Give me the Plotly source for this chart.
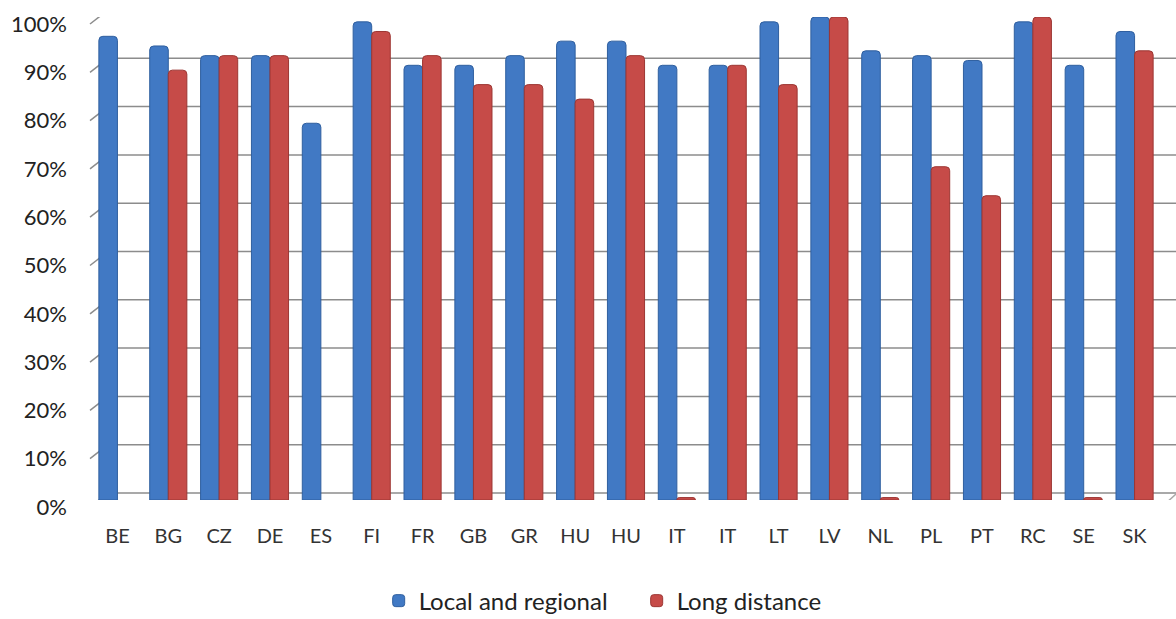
import plotly.graph_objects as go

# Share of lines/services per country (fractions of 1)
countries = ["BE", "BG", "CZ", "DE", "ES", "FI", "FR", "GB", "GR", "HU", "HU",
             "IT", "IT", "LT", "LV", "NL", "PL", "PT", "RC", "SE", "SK"]
local_regional = [0.96, 0.94, 0.92, 0.92, 0.78, 0.99, 0.90, 0.90, 0.92, 0.95, 0.95,
                  0.90, 0.90, 0.99, 1.00, 0.93, 0.92, 0.91, 0.99, 0.90, 0.97]
long_distance = [None, 0.89, 0.92, 0.92, None, 0.97, 0.92, 0.86, 0.86, 0.83, 0.92,
                 0.005, 0.90, 0.86, 1.00, 0.005, 0.69, 0.63, 1.00, 0.005, 0.93]
y_ticks = [i / 10 for i in range(11)]

BLUE = "#4179C4"
RED = "#C64B48"
GRID = "#8C8C8C"
FONT = "Lato, 'Open Sans', sans-serif"

positions = list(range(len(countries)))

fig = go.Figure()
fig.add_trace(go.Bar(
    x=positions, y=local_regional, name="Local and regional",
    marker=dict(color=BLUE, line=dict(color="#2F5F9F", width=1)),
))
fig.add_trace(go.Bar(
    x=positions, y=long_distance, name="Long distance",
    marker=dict(color=RED, line=dict(color="#9C3633", width=1)),
))

# Pseudo-3D frame: gridlines run from the side wall (diagonal) across the back wall
shapes = []
for v in y_ticks:
    shapes.append(dict(
        type="line", layer="below", xref="paper", yref="y",
        xsizemode="pixel", xanchor=0, x0=-2, x1=16,
        ysizemode="pixel", yanchor=v, y0=-7, y1=7,
        line=dict(color=GRID, width=1.5),
    ))
    shapes.append(dict(
        type="line", layer="below", xref="paper", yref="y",
        x0=0.0168, x1=1.02,
        ysizemode="pixel", yanchor=v, y0=7, y1=7,
        line=dict(color=GRID, width=1.5),
    ))
# Floor: front edge and the slanted right end
shapes.append(dict(
    type="line", layer="below", xref="paper", yref="y",
    x0=-0.002, x1=1.004, ysizemode="pixel", yanchor=0, y0=-5, y1=-5,
    line=dict(color="#A8A8A8", width=1.5),
))
shapes.append(dict(
    type="line", layer="below", xref="paper", yref="y",
    xsizemode="pixel", xanchor=1.0, x0=4, x1=16,
    ysizemode="pixel", yanchor=0, y0=-5, y1=6,
    line=dict(color="#A8A8A8", width=1.5),
))

fig.update_layout(
    width=1176, height=619,
    margin=dict(l=92, r=16, t=17, b=119, autoexpand=False),
    paper_bgcolor="white", plot_bgcolor="white",
    barmode="group", bargap=0.27, bargroupgap=0.0, barcornerradius=4,
    font=dict(family=FONT, color="#222222"),
    shapes=shapes,
    showlegend=True,
    legend=dict(
        orientation="h", xref="container", x=0.322, xanchor="left",
        yref="container", y=0.029, yanchor="middle",
        font=dict(size=24, family=FONT, color="#222222"),
        entrywidth=213, entrywidthmode="pixels",
        tracegroupgap=0, traceorder="normal",
    ),
    xaxis=dict(
        tickmode="array", tickvals=positions, ticktext=countries,
        range=[-0.5, len(countries) - 0.5],
        showgrid=False, zeroline=False, showline=False, ticks="",
        tickfont=dict(size=20, color="#333333"), ticklabelstandoff=22,
    ),
    yaxis=dict(
        range=[0, 1.0], tickvals=y_ticks, tickformat=".0%",
        showgrid=False, zeroline=False, showline=False, ticks="",
        tickfont=dict(size=22, color="#222222"), ticklabelstandoff=24,
        ticklabelshift=7,
    ),
)

fig.write_html("out.html")
